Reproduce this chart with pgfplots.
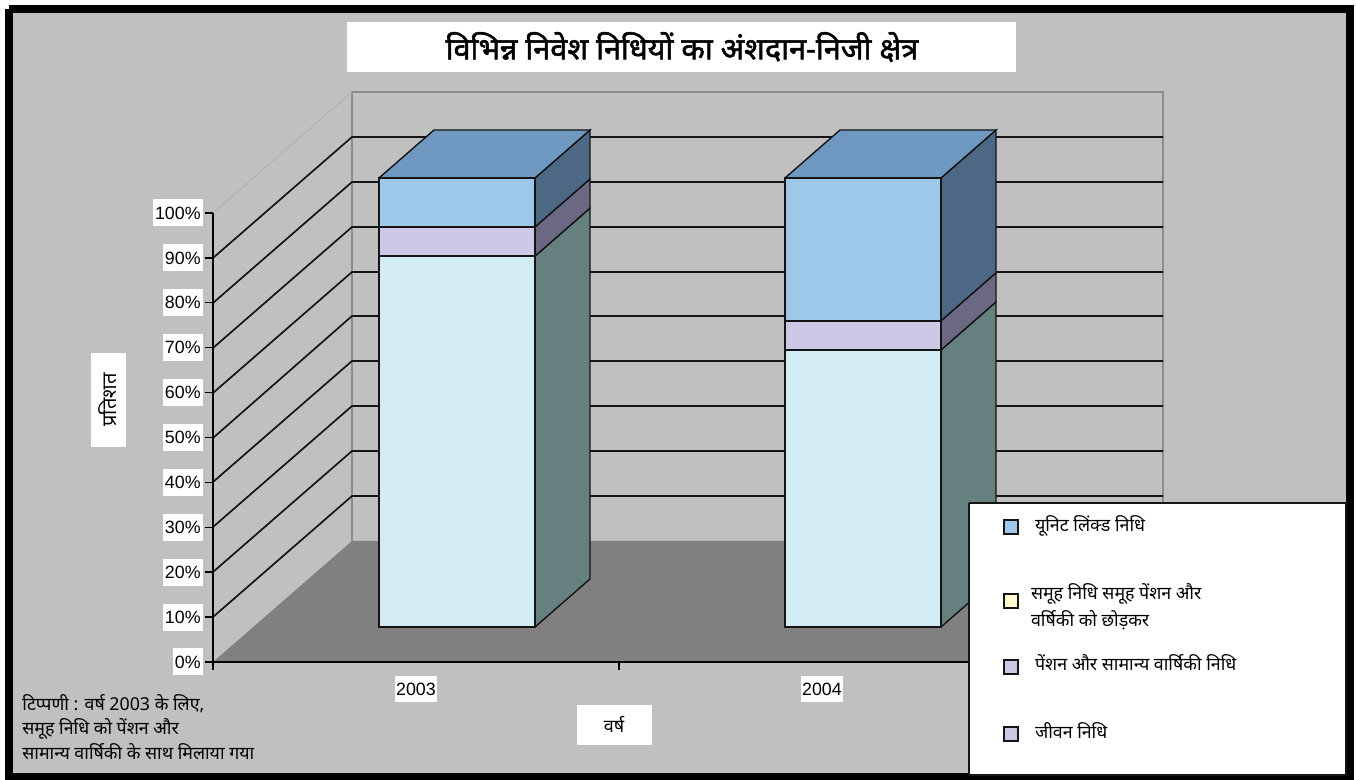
\documentclass[border=0pt]{standalone}
\usepackage{fontspec}
\usepackage{pgfplots}
\pgfplotsset{compat=1.18}
\setmainfont{Liberation Sans}
\newfontfamily\hindi[Script=Devanagari]{Noto Sans}
\newfontfamily\hindibold[Script=Devanagari,FakeBold=1.6]{Noto Sans}
\definecolor{wallgrey}{RGB}{192,192,192}
\definecolor{floorgrey}{RGB}{128,128,128}
\definecolor{edgegrey}{RGB}{140,140,140}
\definecolor{blueF}{RGB}{157,200,234}
\definecolor{blueS}{RGB}{76,104,132}
\definecolor{blueT}{RGB}{111,152,192}
\definecolor{lilacF}{RGB}{204,201,230}
\definecolor{lilacS}{RGB}{106,104,130}
\definecolor{paleF}{RGB}{211,236,243}
\definecolor{paleS}{RGB}{102,128,127}
\definecolor{yellowL}{RGB}{255,251,204}
\definecolor{inkk}{RGB}{20,20,20}
% one px of the reference = 0.5pt
\pgfplotsset{
  pxaxis/.style={scale only axis, width=678pt, height=390pt, at={(0,0)}, anchor=south west,
    xmin=0, xmax=1356, ymin=0, ymax=780, y dir=reverse, hide axis, clip=false},
  baraxis/.style={scale only axis, width=406pt, height=224.5pt, at={(127pt,76.5pt)}, anchor=south west,
    xmin=0, xmax=2, ymin=0, ymax=100, hide axis, clip=false},
}
\begin{document}
\begin{tikzpicture}
\path[use as bounding box] (0,0) rectangle (678pt,390pt);

% frame, walls, floor, gridlines (reference pixels)
\begin{axis}[pxaxis,
  title={\hindibold\fontsize{15.3}{18}\selectfont विभिन्न निवेश निधियों का अंशदान-निजी क्षेत्र},
  title style={at={(rel axis cs:0.5029,0.9397)}, anchor=center, yshift=-6pt, fill=white, minimum width=334.5pt, minimum height=25pt, inner sep=0pt},
]
\addplot[fill=wallgrey, draw=black, line width=4pt] coordinates {(8.5,9)(1350,9)(1350,777)(8.5,777)(8.5,9)};
\addplot[fill=floorgrey, draw=none] coordinates {(213,662)(352,541)(1163,541)(1025,662)(213,662)};
\addplot[edgegrey, line width=0.8pt] coordinates {(352,541)(352,92)(1163,92)(1163,541)};
\addplot[lightgray!80!gray, line width=0.5pt] coordinates {(213,213)(352,92)};
\addplot[inkk, line width=0.85pt] coordinates {(213,617)(352,496)(1163,496)};
\addplot[inkk, line width=0.85pt] coordinates {(213,572)(352,451)(1163,451)};
\addplot[inkk, line width=0.85pt] coordinates {(213,527)(352,406)(1163,406)};
\addplot[inkk, line width=0.85pt] coordinates {(213,482)(352,361)(1163,361)};
\addplot[inkk, line width=0.85pt] coordinates {(213,438)(352,316)(1163,316)};
\addplot[inkk, line width=0.85pt] coordinates {(213,393)(352,272)(1163,272)};
\addplot[inkk, line width=0.85pt] coordinates {(213,348)(352,227)(1163,227)};
\addplot[inkk, line width=0.85pt] coordinates {(213,303)(352,182)(1163,182)};
\addplot[inkk, line width=0.85pt] coordinates {(213,258)(352,137)(1163,137)};
\node[anchor=north west, align=left, inner sep=0pt, font=\hindi\fontsize{8.9}{12.2}\selectfont] at (axis cs:22,694)
  {टिप्पणी : वर्ष 2003 के लिए,\\समूह निधि को पेंशन और\\सामान्य वार्षिकी के साथ मिलाया गया};
\end{axis}

% front plane axis with the real ticks
\begin{axis}[scale only axis, width=406pt, height=224.5pt, at={(106.5pt,59pt)}, anchor=south west,
  xmin=0, xmax=2, ymin=0, ymax=100,
  axis lines=left, axis line style={-, black, line width=0.8pt},
  tick align=outside, major tick length=4pt, tick style={black, line width=0.7pt},
  xtick={0,1,2}, xticklabels={},
  extra x ticks={0.5,1.5}, extra x tick labels={2003,2004},
  extra x tick style={major tick length=0pt, tick style={draw=none},
    tick label style={fill=white, inner sep=0.5pt, minimum height=13pt, yshift=-7pt}},
  ytick={0,10,...,100},
  yticklabel={\pgfmathprintnumber{\tick}\%},
  /pgf/number format/assume math mode=true,
  tick label style={font=\fontsize{8.9}{10}\selectfont},
  y tick label style={fill=white, inner sep=1pt, minimum height=13.5pt, xshift=-1pt},
  xlabel={\hindi\fontsize{9}{10}\selectfont वर्ष},
  xlabel style={at={(axis description cs:0.494,-0.140)}, anchor=center, fill=white, minimum width=37.5pt, minimum height=20pt, inner sep=0pt},
  ylabel={\hindi\fontsize{10}{10}\selectfont प्रतिशत},
  ylabel style={at={(axis description cs:-0.1293,0.5835)}, anchor=center, fill=white, minimum width=47pt, minimum height=17.5pt, inner sep=0pt},
]
\addplot[draw=none] coordinates {(0,0)};
\end{axis}

% side and top faces of the bars
\begin{axis}[baraxis]
\addplot[fill=paleS, draw=inkk, line width=0.7pt] coordinates {(0.6921,0)(0.8276,10.69)(0.8276,93.29)(0.6921,82.6)(0.6921,0)};
\addplot[fill=lilacS, draw=inkk, line width=0.7pt] coordinates {(0.6921,82.6)(0.8276,93.29)(0.8276,99.79)(0.6921,89.1)(0.6921,82.6)};
\addplot[fill=blueS, draw=inkk, line width=0.7pt] coordinates {(0.6921,89.1)(0.8276,99.79)(0.8276,110.69)(0.6921,100)(0.6921,89.1)};
\addplot[fill=blueT, draw=inkk, line width=0.7pt] coordinates {(0.3079,100)(0.6921,100)(0.8276,110.69)(0.4434,110.69)(0.3079,100)};
\addplot[fill=paleS, draw=inkk, line width=0.7pt] coordinates {(1.6921,0)(1.8276,10.69)(1.8276,72.39)(1.6921,61.7)(1.6921,0)};
\addplot[fill=lilacS, draw=inkk, line width=0.7pt] coordinates {(1.6921,61.7)(1.8276,72.39)(1.8276,78.89)(1.6921,68.2)(1.6921,61.7)};
\addplot[fill=blueS, draw=inkk, line width=0.7pt] coordinates {(1.6921,68.2)(1.8276,78.89)(1.8276,110.69)(1.6921,100)(1.6921,68.2)};
\addplot[fill=blueT, draw=inkk, line width=0.7pt] coordinates {(1.3079,100)(1.6921,100)(1.8276,110.69)(1.4434,110.69)(1.3079,100)};
\end{axis}

% front faces, stacked
\begin{axis}[baraxis, ybar stacked, bar width=0.3842]
\addplot[fill=paleF, draw=inkk, line width=0.8pt] coordinates {(0.5,82.6)(1.5,61.7)};
\addplot[fill=lilacF, draw=inkk, line width=0.8pt] coordinates {(0.5,6.5)(1.5,6.5)};
\addplot[fill=blueF, draw=inkk, line width=0.8pt] coordinates {(0.5,10.9)(1.5,31.8)};
\end{axis}

% legend box on top
\begin{axis}[pxaxis,
  legend image code/.code={\draw[#1, line width=0.8pt] (0pt,-3.5pt) rectangle (7pt,3.5pt);},
  legend style={at={(rel axis cs:0.7397,0.3769)}, anchor=north west, draw=none, fill=none, inner sep=0pt,
    font=\hindi\fontsize{8.9}{12}\selectfont, row sep=0pt},
  legend cell align=left,
]
\addplot[fill=white, draw=inkk, line width=0.8pt, forget plot] coordinates {(969,503)(1346,503)(1346,775)(969,775)(969,503)};
\addlegendimage{fill=blueF, draw=inkk, yshift=-7.25pt}
\addlegendentry{\rule{0pt}{20.5pt}\hspace*{6pt}यूनिट लिंक्ड निधि}
\addlegendimage{fill=yellowL, draw=inkk, yshift=-7.5pt}
\addlegendentry{\rule{0pt}{42pt}\hspace*{4pt}{\fontsize{8.9}{11}\selectfont\shortstack[l]{समूह निधि समूह पेंशन और\\वर्षिकी को छोड़कर}}}
\addlegendimage{fill=lilacF, draw=inkk, yshift=-5.75pt}
\addlegendentry{\rule{0pt}{16.5pt}\hspace*{6pt}पेंशन और सामान्य वार्षिकी निधि}
\addlegendimage{fill=lilacF, draw=inkk, yshift=-11.25pt}
\addlegendentry{\rule{0pt}{28.5pt}\hspace*{6pt}जीवन निधि}
\end{axis}
\end{tikzpicture}
\end{document}
